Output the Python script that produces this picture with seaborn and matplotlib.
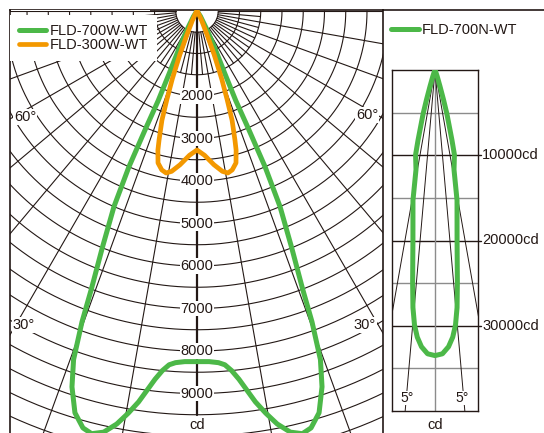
import numpy as np
import pandas as pd
import matplotlib
matplotlib.use("Agg")
import matplotlib.pyplot as plt
import seaborn as sns

sns.set_style("white")
plt.rcParams['font.family'] = ['Liberation Sans', 'DejaVu Sans']

# candela curves (angle from nadir in degrees, cd), one half, mirrored
w700_deg = [0, 2, 3.5, 4.5, 5.5, 6.5, 7.5, 8.5, 9.7, 11, 12.5, 14, 15.3, 16.9, 18.4, 19.5,
            20.3, 20.8, 21.8, 23, 23.6, 23.6, 23.4, 24, 25.5, 28, 33, 90]
w700_cd = [8250, 8255, 8290, 8350, 8500, 8720, 9000, 9300, 9600, 9900, 10150, 10250, 10170,
           9880, 9320, 8700, 7800, 7000, 6000, 5000, 4000, 3000, 2300, 1600, 1000, 500, 150, 0]

w300_deg = [0, 3, 6.3, 9, 10.8, 12.5, 14.4, 15.7, 16.4, 17.8, 18.8, 20, 21.5, 23, 26, 32, 90]
w300_cd = [3270, 3400, 3640, 3820, 3880, 3830, 3690, 3400, 3160, 2700, 2200, 1700, 1100,
           600, 250, 50, 0]

n700_deg = [0, 1.5, 2.8, 3.8, 4.6, 5.3, 6, 7.4, 8.5, 9.6, 10.8, 12.9, 13.6, 15.2, 16, 17,
            19, 22, 90]
n700_cd = [33500, 33300, 32500, 31400, 30000, 28000, 25100, 20100, 17500, 15500, 11900,
           10200, 8450, 5300, 3600, 2000, 800, 200, 0]

ring_labels = [2000, 3000, 4000, 5000, 6000, 7000, 8000, 9000]
n_labels = [10000, 20000, 30000]

GRID = '#231815'
GREEN = '#4cb848'
ORANGE = '#f39800'
W, H = 544, 433


def box(x0, y0, x1, y1):
    return [x0 / W, 1 - y1 / H, (x1 - x0) / W, (y1 - y0) / H]


def polar_df(deg, cd):
    deg = np.asarray(deg, float)
    cd = np.asarray(cd, float)
    d = np.concatenate([-deg[::-1], deg[1:]])
    c = np.concatenate([cd[::-1], cd[1:]])
    th = np.radians(d)
    return pd.DataFrame({'x': c * np.sin(th), 'y': c * np.cos(th)})


fig = plt.figure(figsize=(W / 100, H / 100), dpi=100)

# ---- left polar panel ----
scale = 42.5  # px per 1000 cd
cx, cy = 197, 11
ax = fig.add_axes(box(10, 10, 383, 433))
ax.set_xlim((10 - cx) / scale * 1000, (383 - cx) / scale * 1000)
ax.set_ylim((433 - cy) / scale * 1000, (10 - cy) / scale * 1000)
ax.set_xticks([])
ax.set_yticks([])
ax.spines['bottom'].set_visible(False)
for s in ['left', 'top', 'right']:
    ax.spines[s].set_color(GRID)
    ax.spines[s].set_linewidth(1.2)

t = np.radians(np.linspace(-90, 90, 361))
for r in range(500, 11501, 500):
    ax.plot(r * np.sin(t), r * np.cos(t), color=GRID, lw=0.8, zorder=1)
for a in range(-90, 91, 5):
    if a == 0:
        continue
    r1 = 12000 if a % 10 == 0 else 1500
    ar = np.radians(a)
    ax.plot([500 * np.sin(ar), r1 * np.sin(ar)], [500 * np.cos(ar), r1 * np.cos(ar)],
            color=GRID, lw=0.8, zorder=1)
ax.plot([0, 0], [0, 9500], color=GRID, lw=1.6, zorder=2)

for r in ring_labels:
    ax.text(0, r, str(r), ha='center', va='center', fontsize=10.5, color=GRID, zorder=3,
            bbox=dict(fc='white', ec='none', pad=0.5))
ax.text(0, 9750, 'cd', ha='center', va='center', fontsize=10.5, color=GRID, zorder=3,
        bbox=dict(fc='white', ec='none', pad=0.5))

d700 = polar_df(w700_deg, w700_cd)
d300 = polar_df(w300_deg, w300_cd)
sns.lineplot(data=d700, x='x', y='y', sort=False, estimator=None, color=GREEN, lw=3.6,
             ax=ax, label='FLD-700W-WT', zorder=5)
sns.lineplot(data=d300, x='x', y='y', sort=False, estimator=None, color=ORANGE, lw=3.4,
             ax=ax, label='FLD-300W-WT', zorder=6)
ax.set_xlabel('')
ax.set_ylabel('')
leg = ax.legend(loc='upper left', bbox_to_anchor=(10 / W, 1 - 15 / H),
                bbox_transform=fig.transFigure, frameon=True, fancybox=False, fontsize=10.5,
                handlelength=1.85, handletextpad=0.3, labelspacing=0.0,
                borderpad=0.6, borderaxespad=0)
leg.get_frame().set_facecolor('white')
leg.get_frame().set_edgecolor('none')
leg.get_frame().set_alpha(1)
leg.set_zorder(10)
for txt in leg.get_texts():
    txt.set_color(GRID)
# blank strip above the legend, as in the catalogue sheet
ax.fill_between([-4376, -1100], [0, 0], [-240, -240], color='white', zorder=9, lw=0)


def ptext(x, y, s, size=10.5):
    fig.text(x / W, 1 - y / H, s, fontsize=size, color=GRID, ha='center', va='center',
             bbox=dict(fc='white', ec='none', pad=0.5), zorder=20)


ptext(25, 117, '60°')
ptext(367, 115, '60°')
ptext(24, 325, '30°')
ptext(365, 325, '30°')

# ---- right panel ----
axf = fig.add_axes(box(383, 10, 544, 433))
axf.set_xticks([])
axf.set_yticks([])
for s in ['left', 'right', 'bottom']:
    axf.spines[s].set_visible(False)
axf.spines['top'].set_color(GRID)
axf.spines['top'].set_linewidth(1.2)
axf.patch.set_alpha(0)

axn = fig.add_axes(box(392, 70, 478, 411))
half = 43 / 341 * 40000
axn.set_xlim(-half, half)
axn.set_ylim(40000, 0)
axn.set_xticks([])
axn.set_yticks([])
for s in axn.spines.values():
    s.set_color(GRID)
    s.set_linewidth(1.0)
for v in range(5000, 40000, 5000):
    c = GRID if v % 10000 == 0 else '#8c8c8c'
    axn.axhline(v, color=c, lw=1.0, zorder=1)
axn.axvline(0, color='#8c8c8c', lw=1.0, zorder=1)
for a in [-10, -5, 5, 10]:
    ar = np.radians(a)
    axn.plot([0, 60000 * np.sin(ar)], [0, 60000 * np.cos(ar)], color=GRID, lw=0.7, zorder=2)

dn = polar_df(n700_deg, n700_cd)
sns.lineplot(data=dn, x='x', y='y', sort=False, estimator=None, color=GREEN, lw=3.6,
             ax=axn, label='FLD-700N-WT', zorder=5)
axn.set_xlabel('')
axn.set_ylabel('')
legn = axn.legend(loc='upper left', bbox_to_anchor=(391 / W, 1 - 23 / H),
                  bbox_transform=fig.transFigure, frameon=False, fontsize=10.5,
                  handlelength=1.9, handletextpad=0.2, borderpad=0, borderaxespad=0)
for txt in legn.get_texts():
    txt.set_color(GRID)

for v in n_labels:
    axn.plot([half, half * 1.08], [v, v], color=GRID, lw=1.0, clip_on=False)
    axn.text(half * 1.1, v, f'{v}cd', ha='left', va='center', fontsize=10.5, color=GRID)

for xx in [407, 462]:
    fig.text(xx / W, 1 - 398 / H, '5°', fontsize=10, color=GRID, ha='center', va='center',
             bbox=dict(fc='white', ec='none', pad=0.3), zorder=20)
fig.text(435 / W, 1 - 425 / H, 'cd', fontsize=10.5, color=GRID, ha='center', va='center')

fig.savefig('out.png', dpi=100)
